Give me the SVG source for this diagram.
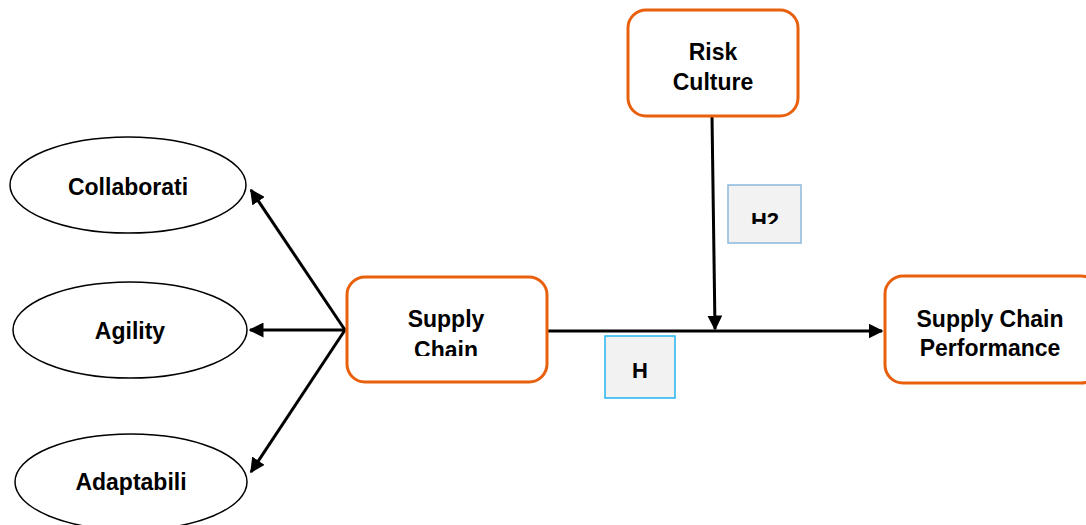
<svg xmlns="http://www.w3.org/2000/svg" width="1086" height="525" viewBox="0 0 1086 525">
<style>
.box{fill:#fff;stroke:#E8600C;stroke-width:3}
.ell{fill:#fff;stroke:#000;stroke-width:1.5}
.lbl{font-family:"Liberation Sans",Arial,sans-serif;font-weight:bold;font-size:23px;fill:#000;text-anchor:middle}
.hl{font-family:"Liberation Sans",Arial,sans-serif;font-weight:bold;font-size:22px;fill:#000;text-anchor:middle}
.con{stroke:#000;stroke-width:3;fill:none}
</style>
<defs>
<marker id="ah" viewBox="0 0 10 10" refX="9" refY="5" markerWidth="5" markerHeight="5" orient="auto" markerUnits="strokeWidth">
<path d="M0,0 L10,5 L0,10 z" fill="#000"/>
</marker>
<clipPath id="cSC"><rect x="340" y="270" width="220" height="86"/></clipPath>
<clipPath id="cH2"><rect x="728" y="185" width="74" height="39"/></clipPath>
</defs>
<g id="connectors">
<line class="con" x1="345" y1="330" x2="251" y2="190" marker-end="url(#ah)"/>
<line class="con" x1="345" y1="330" x2="250" y2="330" marker-end="url(#ah)"/>
<line class="con" x1="345" y1="330" x2="251" y2="472" marker-end="url(#ah)"/>
<line class="con" x1="542" y1="331" x2="882" y2="331" marker-end="url(#ah)"/>
<line class="con" x1="712" y1="116" x2="715" y2="329" marker-end="url(#ah)"/>
</g>
<g id="risk-culture">
<rect class="box" x="628" y="10" width="170" height="106" rx="18"/>
<text class="lbl" x="713" y="60">Risk</text>
<text class="lbl" x="713" y="90">Culture</text>
</g>
<g id="h2">
<rect x="728" y="185" width="73" height="58" fill="#f2f2f2" stroke="#8bb8dc" stroke-width="1.5"/>
<text class="hl" x="765" y="228" clip-path="url(#cH2)">H2</text>
</g>
<g id="supply-chain">
<rect class="box" x="347" y="277" width="200" height="105" rx="18"/>
<g clip-path="url(#cSC)">
<text class="lbl" x="446" y="327">Supply</text>
<text class="lbl" x="446" y="358">Chain</text>
</g>
</g>
<g id="h">
<rect x="605" y="336" width="70" height="62" fill="#f2f2f2" stroke="#22b5f0" stroke-width="1.5"/>
<text class="hl" x="640" y="378">H</text>
</g>
<g id="scp">
<rect class="box" x="885" y="276" width="214" height="107" rx="18"/>
<text class="lbl" x="990" y="327">Supply Chain</text>
<text class="lbl" x="990" y="356">Performance</text>
</g>
<g id="collaboration">
<ellipse class="ell" cx="128" cy="185" rx="118" ry="48"/>
<text class="lbl" x="128" y="195">Collaborati</text>
</g>
<g id="agility">
<ellipse class="ell" cx="130" cy="330" rx="117" ry="48"/>
<text class="lbl" x="130" y="339">Agility</text>
</g>
<g id="adaptability">
<ellipse class="ell" cx="131" cy="482" rx="116" ry="48"/>
<text class="lbl" x="131" y="490">Adaptabili</text>
</g>
</svg>
